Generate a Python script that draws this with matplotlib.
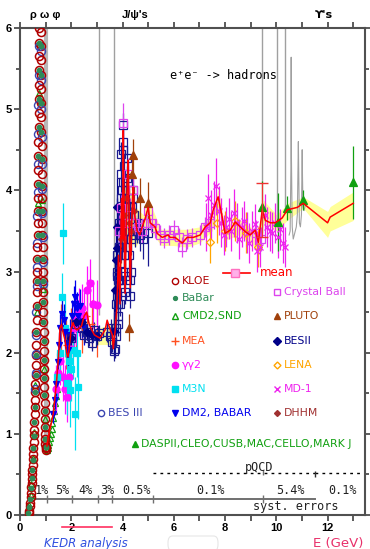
import matplotlib
matplotlib.use('Agg')
import matplotlib.pyplot as plt
from matplotlib.ticker import MultipleLocator, FuncFormatter
from matplotlib.lines import Line2D
from matplotlib.patches import FancyBboxPatch
from matplotlib import font_manager

# ---------------- data ----------------
KLOE_E = [0.36, 0.39, 0.42, 0.45, 0.47, 0.49, 0.51, 0.53, 0.55, 0.57, 0.585, 0.60, 0.615, 0.63, 0.645, 0.66,
          0.67, 0.68, 0.69, 0.70, 0.71, 0.72, 0.73, 0.74, 0.75, 0.76,
          0.80, 0.81, 0.82, 0.83, 0.84, 0.85, 0.86, 0.87, 0.88, 0.89, 0.90, 0.91, 0.92, 0.93, 0.94,
          0.95, 0.96, 0.97, 0.98, 0.99, 1.00]
KLOE_R = [0.05, 0.15, 0.27, 0.40, 0.50, 0.62, 0.75, 0.90, 1.05, 1.25, 1.42, 1.62, 1.85, 2.10, 2.40, 2.75,
          3.00, 3.30, 3.60, 3.90, 4.25, 4.60, 4.95, 5.30, 5.65, 6.00,
          5.95, 5.60, 5.25, 4.90, 4.55, 4.20, 3.90, 3.60, 3.30, 3.00, 2.75, 2.50, 2.25, 2.02, 1.80,
          1.58, 1.38, 1.18, 1.00, 0.88, 0.80]

KLOE2_E = [0.35, 0.38, 0.41, 0.44, 0.46, 0.48, 0.50, 0.52, 0.54, 0.56, 0.575, 0.59, 0.605, 0.62, 0.635, 0.65,
           0.665, 0.675, 0.685, 0.695, 0.705, 0.715, 0.725, 0.735, 0.745, 0.755,
           0.805, 0.815, 0.825, 0.835, 0.845, 0.855, 0.865, 0.875, 0.885, 0.895, 0.905, 0.915, 0.925,
           0.935, 0.945, 0.955, 0.965, 0.975, 0.985, 0.995, 1.005]
KLOE2_R = [0.03, 0.11, 0.22, 0.34, 0.44, 0.56, 0.69, 0.83, 0.98, 1.15, 1.33, 1.52, 1.73, 1.97, 2.25, 2.58,
           2.88, 3.15, 3.45, 3.75, 4.08, 4.42, 4.78, 5.12, 5.48, 5.82,
           5.78, 5.42, 5.08, 4.72, 4.38, 4.05, 3.75, 3.45, 3.15, 2.88, 2.62, 2.38, 2.14,
           1.91, 1.69, 1.48, 1.28, 1.09, 0.94, 0.84, 0.82]

BABAR_E = [0.33, 0.37, 0.40, 0.43, 0.46, 0.48, 0.50, 0.52, 0.54, 0.56, 0.58, 0.595, 0.61, 0.625, 0.64, 0.655,
           0.665, 0.675, 0.685, 0.695, 0.705, 0.715, 0.725, 0.735, 0.745, 0.755,
           0.805, 0.815, 0.825, 0.835, 0.845, 0.855, 0.865, 0.875, 0.885, 0.895, 0.905, 0.915, 0.925,
           0.935, 0.945, 0.955, 0.965, 0.975, 0.985, 0.995]
BABAR_R = [0.02, 0.10, 0.20, 0.33, 0.45, 0.56, 0.68, 0.82, 0.97, 1.15, 1.33, 1.52, 1.73, 1.97, 2.25, 2.58,
           2.88, 3.15, 3.45, 3.75, 4.08, 4.42, 4.78, 5.12, 5.48, 5.82,
           5.78, 5.42, 5.08, 4.72, 4.38, 4.05, 3.75, 3.45, 3.15, 2.88, 2.62, 2.38, 2.14,
           1.91, 1.69, 1.48, 1.28, 1.09, 0.94, 0.84]

BES3_E = [0.60, 0.61, 0.62, 0.63, 0.64, 0.65, 0.66, 0.67, 0.68, 0.69, 0.70, 0.71, 0.72, 0.73, 0.74, 0.75,
          0.76, 0.80, 0.81, 0.82, 0.83, 0.84, 0.85, 0.86, 0.87, 0.88, 0.89, 0.90]
BES3_R = [1.55, 1.75, 1.98, 2.22, 2.50, 2.82, 3.05, 3.35, 3.68, 3.98, 4.32, 4.70, 5.05, 5.42, 5.78, 6.10,
          6.40, 6.10, 5.72, 5.36, 5.00, 4.66, 4.32, 4.02, 3.72, 3.42, 3.12, 2.85]

CMD_E = [0.37, 0.41, 0.44, 0.50, 0.55, 0.60, 0.65, 0.70, 0.74, 0.82, 0.86, 0.90, 0.94, 0.97,
         1.05, 1.08, 1.11, 1.14, 1.17, 1.20, 1.23, 1.26, 1.29, 1.32, 1.36, 1.40, 1.44]
CMD_R = [0.12, 0.25, 0.38, 0.70, 1.02, 1.60, 2.50, 3.85, 5.20, 5.10, 3.88, 2.78, 1.80, 1.18,
         0.80, 0.83, 0.86, 0.90, 0.95, 1.00, 1.06, 1.13, 1.20, 1.28, 1.38, 1.47, 1.55]

DM2_E = [1.30, 1.36, 1.42, 1.48, 1.52, 1.58, 1.64, 1.70, 1.76, 1.82, 1.88, 1.95, 2.02, 2.10, 2.15, 2.22,
         2.28, 2.34, 2.42, 2.50]
DM2_R = [1.25, 1.42, 1.62, 1.88, 2.10, 2.30, 2.48, 2.40, 2.25, 2.12, 2.03, 2.22, 2.45, 2.60, 2.68, 2.55,
         2.45, 2.58, 2.38, 2.30]
DM2_ERR = [0.12, 0.12, 0.15, 0.15, 0.15, 0.18, 0.20, 0.20, 0.18, 0.18, 0.20, 0.20, 0.20, 0.22, 0.22, 0.20,
           0.20, 0.20, 0.20, 0.20]

M3N_E = [1.45, 1.55, 1.64, 1.68, 1.75, 1.83, 1.90, 1.95, 2.00, 2.07, 2.15, 2.22, 2.27]
M3N_R = [1.70, 2.00, 2.68, 3.47, 2.30, 1.63, 1.90, 1.54, 1.80, 2.03, 1.25, 2.00, 1.58]
M3N_ERR = [0.30, 0.30, 0.30, 0.38, 0.35, 0.40, 0.40, 0.45, 0.40, 0.35, 0.45, 0.30, 0.40]

GG2_E = [1.42, 1.50, 1.58, 1.66, 1.74, 1.82, 1.90, 2.00, 2.10, 2.20, 2.30, 2.40, 2.50, 2.60, 2.73, 2.85, 3.00]
GG2_R = [1.55, 1.75, 1.90, 1.70, 1.55, 1.45, 1.70, 2.05, 2.30, 2.40, 2.50, 2.55, 2.45, 2.77, 2.86, 2.60, 2.59]
GG2_ERR = [0.30, 0.30, 0.30, 0.30, 0.30, 0.30, 0.30, 0.30, 0.30, 0.30, 0.30, 0.30, 0.30, 0.30, 0.30, 0.30, 0.30]

MEA_E = [1.6, 1.8, 2.0, 2.2, 2.4, 2.6, 2.8, 3.0]
MEA_R = [2.30, 2.10, 2.25, 2.35, 2.30, 2.45, 2.35, 2.25]
MEA_ERR = [0.30, 0.30, 0.30, 0.30, 0.30, 0.30, 0.30, 0.30]

BES_E = [2.0, 2.2, 2.4, 2.5, 2.6, 2.7, 2.8, 2.9, 3.0, 3.07, 3.4, 3.5, 3.55, 3.6, 3.65, 3.7, 3.73,
         3.75, 3.76, 3.77, 3.78, 3.79, 3.80, 3.81, 3.82, 3.83, 3.84, 3.85, 3.86, 3.87, 3.88, 3.89, 3.90,
         3.91, 3.92, 3.93, 3.94, 3.95, 3.96, 3.97, 3.98, 3.99, 4.00, 4.01, 4.02, 4.03, 4.04, 4.05, 4.06,
         4.07, 4.08, 4.09, 4.10, 4.12, 4.14, 4.16, 4.18, 4.20, 4.22, 4.24, 4.26, 4.28, 4.30, 4.32, 4.35,
         4.38, 4.40, 4.42, 4.45, 4.48, 4.50, 4.55, 4.60, 4.70, 4.80, 5.00]
BES_R = [2.18, 2.35, 2.30, 2.22, 2.25, 2.18, 2.12, 2.28, 2.20, 2.24, 2.25, 2.20, 2.30, 2.13, 2.02, 2.05, 2.20,
         2.30, 2.60, 2.95, 3.20, 3.00, 2.70, 2.45, 2.35, 2.60, 2.90, 3.30, 3.60, 3.30, 2.90, 2.60, 2.80,
         3.10, 3.50, 3.90, 4.20, 4.45, 4.00, 3.60, 3.30, 3.70, 4.10, 4.50, 4.80, 4.60, 4.30, 3.90, 3.50,
         3.20, 2.95, 2.75, 3.00, 3.40, 3.80, 4.15, 4.40, 4.10, 3.80, 3.50, 3.20, 2.90, 2.70, 3.00, 3.40,
         3.80, 4.00, 3.90, 3.70, 3.55, 3.45, 3.50, 3.60, 3.45, 3.40, 3.47]
BES_ERR = [0.10, 0.10, 0.10, 0.10, 0.10, 0.10, 0.10, 0.10, 0.10, 0.10, 0.12, 0.12, 0.12, 0.12, 0.12, 0.12, 0.12,
           0.15, 0.15, 0.15, 0.15, 0.15, 0.15, 0.15, 0.15, 0.15, 0.15, 0.15, 0.15, 0.15, 0.15, 0.15, 0.15,
           0.15, 0.15, 0.15, 0.15, 0.15, 0.15, 0.15, 0.15, 0.15, 0.15, 0.15, 0.15, 0.15, 0.15, 0.15, 0.15,
           0.15, 0.15, 0.15, 0.15, 0.15, 0.15, 0.15, 0.15, 0.15, 0.15, 0.15, 0.15, 0.15, 0.15, 0.15, 0.15,
           0.15, 0.15, 0.15, 0.15, 0.15, 0.15, 0.15, 0.15, 0.20, 0.25, 0.40]

BES2_E = [2.0, 2.2, 2.4, 2.6, 2.8, 3.0, 3.65, 3.71, 3.74, 3.77, 3.79, 3.79]
BES2_R = [2.18, 2.38, 2.38, 2.25, 2.22, 2.21, 2.27, 2.77, 3.14, 3.29, 3.55, 3.80]
BES2_ERR = [0.10, 0.10, 0.10, 0.10, 0.10, 0.10, 0.30, 0.35, 0.35, 0.35, 0.35, 0.35]

PLUTO_E = [4.26, 4.37, 4.41, 4.69, 5.00]
PLUTO_R = [2.31, 4.20, 4.43, 3.90, 3.85]
PLUTO_ERR = [0.17, 0.20, 0.20, 0.25, 0.25]

DHHM_E = [3.95, 4.05, 4.15, 4.25, 4.35, 4.45]
DHHM_R = [3.40, 3.70, 3.90, 3.60, 3.50, 3.75]
DHHM_ERR = [0.30, 0.30, 0.30, 0.30, 0.30, 0.30]

CB_E = [3.88, 3.95, 4.03, 4.10, 4.20, 4.30, 4.40, 4.50, 4.60, 4.75, 4.90, 5.00, 5.16, 5.27, 5.45, 5.60,
        5.80, 6.00, 6.20, 6.33, 6.50, 6.70, 7.03, 7.20, 7.40, 9.20, 9.40]
CB_R = [3.50, 3.78, 4.83, 3.60, 4.20, 3.70, 4.00, 3.60, 3.55, 3.50, 3.60, 3.75, 3.60, 3.53, 3.45, 3.41,
        3.45, 3.51, 3.42, 3.30, 3.40, 3.42, 3.45, 3.55, 3.60, 3.48, 3.40]
CB_ERR = [0.20, 0.20, 0.25, 0.20, 0.20, 0.20, 0.20, 0.15, 0.15, 0.15, 0.15, 0.15, 0.12, 0.12, 0.12, 0.12,
          0.12, 0.12, 0.12, 0.12, 0.12, 0.12, 0.12, 0.12, 0.12, 0.15, 0.15]

LENA_E = [7.42, 7.70, 8.00, 8.40, 8.80, 9.30]
LENA_R = [3.36, 3.60, 3.50, 3.62, 3.48, 3.30]
LENA_ERR = [0.25, 0.25, 0.25, 0.25, 0.25, 0.25]

MD1_E = [7.25, 7.35, 7.45, 7.55, 7.65, 7.75, 7.85, 7.95, 8.05, 8.15, 8.25, 8.35, 8.45, 8.55, 8.65, 8.75,
         8.85, 8.95, 9.05, 9.15, 9.25, 9.35, 9.55, 9.65, 9.75, 9.85, 9.95, 10.05, 10.15, 10.25, 10.35]
MD1_R = [3.55, 3.90, 3.70, 3.82, 4.05, 3.75, 3.60, 3.45, 3.55, 3.65, 3.50, 3.72, 3.60, 3.40, 3.55, 3.62,
         3.48, 3.35, 3.50, 3.58, 3.25, 3.30, 3.70, 3.55, 3.50, 3.48, 3.60, 3.42, 3.52, 3.35, 3.30]
MD1_ERR = [0.30, 0.30, 0.30, 0.30, 0.35, 0.30, 0.30, 0.25, 0.25, 0.25, 0.25, 0.30, 0.25, 0.25, 0.25, 0.25,
           0.25, 0.25, 0.25, 0.25, 0.25, 0.25, 0.25, 0.25, 0.25, 0.25, 0.25, 0.25, 0.25, 0.25, 0.25]

DASP_E = [9.46, 10.08, 10.43, 11.05, 13.0]
DASP_R = [3.79, 3.61, 3.78, 3.88, 4.10]
DASP_ERR = [0.32, 0.36, 0.15, 0.12, 0.45]

MEAN_E = [1.05, 1.10, 1.20, 1.30, 1.38, 1.43, 1.50, 1.56, 1.62, 1.68, 1.76, 1.82, 1.88, 1.95, 2.00, 2.07,
          2.15, 2.22, 2.30, 2.40, 2.50, 2.60, 2.70, 2.80, 2.90, 3.00, 3.12, 3.20, 3.32, 3.40, 3.50, 3.60,
          3.64, 3.72, 3.78, 3.84, 3.90, 3.96, 4.00, 4.03, 4.06, 4.10, 4.14, 4.18, 4.22, 4.26, 4.30, 4.36,
          4.41, 4.47, 4.57, 4.67, 4.77, 4.88, 5.00, 5.08, 5.27, 5.35, 5.55, 5.78, 5.86, 6.05, 6.33, 6.52,
          6.76, 7.03, 7.23, 7.42, 7.54, 7.73, 7.89, 8.00, 8.20, 8.40, 8.59, 8.79, 8.98, 9.18, 9.30, 9.45,
          9.57, 9.77, 9.96, 10.23, 10.43, 10.82, 11.05, 12.00, 12.10, 13.00]
MEAN_R = [0.85, 0.96, 1.10, 1.25, 1.50, 1.66, 1.95, 2.30, 2.35, 2.25, 2.15, 2.00, 1.95, 2.15, 2.30, 2.37,
          2.30, 2.28, 2.30, 2.33, 2.45, 2.50, 2.35, 2.28, 2.22, 2.20, 2.18, 2.22, 2.28, 2.40, 2.30, 2.22,
          2.05, 2.30, 2.56, 3.20, 2.60, 3.90, 3.40, 4.74, 3.60, 2.73, 3.50, 4.00, 4.37, 3.60, 2.80, 3.60,
          4.04, 3.70, 3.50, 3.45, 3.55, 3.65, 3.79, 3.60, 3.55, 3.47, 3.42, 3.45, 3.42, 3.42, 3.35, 3.42,
          3.42, 3.45, 3.55, 3.60, 3.76, 3.92, 3.67, 3.47, 3.51, 3.61, 3.55, 3.49, 3.45, 3.51, 3.36, 3.76,
          3.63, 3.60, 3.60, 3.66, 3.76, 3.79, 3.84, 3.60, 3.67, 3.84]

BAND_E = [3.0, 3.6, 3.75, 4.0, 4.2, 4.5, 4.8, 5.0, 5.5, 6.0, 6.5, 7.0, 7.5, 7.73, 8.0, 8.5, 9.0, 9.3, 9.5,
          10.0, 10.5, 11.05, 12.0, 12.1, 13.0]
BAND_LO = [2.10, 2.10, 2.30, 3.30, 3.40, 3.30, 3.45, 3.55, 3.32, 3.32, 3.30, 3.35, 3.50, 3.80, 3.38, 3.45,
           3.35, 3.25, 3.60, 3.50, 3.65, 3.78, 3.42, 3.50, 3.63]
BAND_HI = [2.30, 2.35, 2.70, 4.00, 4.10, 3.80, 3.70, 3.90, 3.52, 3.52, 3.52, 3.55, 3.72, 4.02, 3.55, 3.65,
           3.55, 3.45, 3.88, 3.70, 3.85, 3.92, 3.74, 3.80, 3.98]

PEAK_E = [9.46]
PEAK_R = [3.76]
PEAK_ERR = [0.33]

RES_E = [1.02, 3.097, 3.686, 9.46, 10.023, 10.355]
RES_LO = [0.80, 2.46, 2.20, 4.09, 3.63, 3.80]

UH_E = [10.50, 10.54, 10.57, 10.58, 10.59, 10.62, 10.66, 10.70, 10.74, 10.78, 10.82, 10.86, 10.88, 10.90,
        10.94, 10.98, 11.01, 11.02, 11.04, 11.08, 11.12]
UH_R = [3.45, 3.50, 4.30, 5.64, 4.40, 3.55, 3.40, 3.45, 3.50, 3.55, 3.70, 4.60, 4.10, 3.60,
        3.55, 3.70, 4.50, 4.20, 3.80, 3.75, 3.80]

SYST_BREAKS = [1.05, 2.03, 3.05, 3.59, 5.19, 9.48]
SYST_LABELS = ['1%', '5%', '4%', '3%', '0.5%', '0.1%', '5.4%', '0.1%']
SYST_LABEL_E = [0.84, 1.66, 2.54, 3.39, 4.53, 7.42, 10.55, 12.58]

# ---------------- figure ----------------
names = {f.name for f in font_manager.fontManager.ttflist}
TICKFONT = 'Liberation Sans' if 'Liberation Sans' in names else 'DejaVu Sans'
plt.rcParams['font.family'] = ['DejaVu Sans']

W, H = 370, 549
fig = plt.figure(figsize=(W / 100, H / 100), dpi=100)
ax = fig.add_axes([20 / W, (H - 515) / H, 345 / W, 487 / H])
ax.set_xlim(0, 13.46)
ax.set_ylim(0, 6)

for s in ax.spines.values():
    s.set_color('#505050')
    s.set_linewidth(1.5)
ax.xaxis.set_major_locator(MultipleLocator(1))
ax.xaxis.set_major_formatter(FuncFormatter(lambda v, p: f'{int(round(v))}' if int(round(v)) % 2 == 0 else ''))
ax.yaxis.set_major_locator(MultipleLocator(1))
ax.yaxis.set_minor_locator(MultipleLocator(0.5))
ax.tick_params(axis='both', which='major', direction='out', length=4, width=1.2, color='#404040',
               labelsize=8, pad=2)
ax.tick_params(axis='both', which='minor', direction='out', length=3, width=1.2, color='#404040')
ax.tick_params(top=True, right=True, labeltop=False, labelright=False)
ax.tick_params(axis='y', which='minor', right=True)
for lab in ax.get_xticklabels() + ax.get_yticklabels():
    lab.set_fontfamily(TICKFONT)
    lab.set_fontweight('bold')

ax.fill_between(BAND_E, BAND_LO, BAND_HI, color='#ffff99', lw=0, zorder=1)
ax.vlines(RES_E[0], RES_LO[0], 6, color='#b8b8b8', lw=3, zorder=1.2)
ax.vlines(RES_E[1:], RES_LO[1:], 6, color='#a0a0a0', lw=1, zorder=1.2)
ax.plot(UH_E, UH_R, color='#a0a0a0', lw=0.8, zorder=1.2)


def eb(E, R, err, fmt, color, ms, mfc=None, mew=0.9, z=3):
    ax.errorbar(E, R, yerr=err, fmt=fmt, color=color, ms=ms, mfc=mfc if mfc else color, mec=color,
                mew=mew, ecolor=color, elinewidth=0.9, capsize=0, zorder=z)


# rho region
ax.plot(CMD_E, CMD_R, '^', ms=4.5, mfc='none', mec='#10a010', mew=0.9, zorder=3)
ax.plot(KLOE2_E, KLOE2_R, 'o', ms=5.8, mfc='none', mec='#b00000', mew=1.1, zorder=3)
ax.plot(BES3_E, BES3_R, 'o', ms=5.8, mfc='none', mec='#3a44b0', mew=1.0, zorder=3.1)
ax.plot(KLOE_E, KLOE_R, 'o', ms=5.8, mfc='none', mec='#b00000', mew=1.1, zorder=3.1)
ax.plot(BABAR_E, BABAR_R, 'o', ms=3.2, mfc='#2e8b57', mec='#2e8b57', zorder=3.2)

eb(MEA_E, MEA_R, MEA_ERR, '+', '#ff5020', 5)
eb(GG2_E, GG2_R, GG2_ERR, 'o', '#ff10ff', 5)
eb(M3N_E, M3N_R, M3N_ERR, 's', '#00e0f0', 4.5)
eb(DM2_E, DM2_R, DM2_ERR, 'v', '#0000ee', 5)
eb(BES_E, BES_R, BES_ERR, 's', '#1a1a90', 5.2, mfc='none')
eb(BES2_E, BES2_R, BES2_ERR, 'D', '#000088', 4.5)
eb(CB_E, CB_R, CB_ERR, 's', '#dd44ee', 6, mfc='none')
eb(DHHM_E, DHHM_R, DHHM_ERR, 'D', '#a03030', 3)
eb(PLUTO_E, PLUTO_R, PLUTO_ERR, '^', '#a0400a', 5.5)
eb(LENA_E, LENA_R, LENA_ERR, 'D', '#ffa500', 4, mfc='none')
eb(MD1_E, MD1_R, MD1_ERR, 'x', '#ee22ee', 5)
eb(DASP_E, DASP_R, DASP_ERR, '^', '#10a010', 5.5)

ax.plot(MEAN_E, MEAN_R, '-', color='#ff0000', lw=1.1, zorder=5)
ax.errorbar(PEAK_E, PEAK_R, yerr=PEAK_ERR, fmt='none', ecolor='#ee3333', elinewidth=0.9, capsize=4,
            zorder=5)

ax.plot([0.6, 11.52], [0.2, 0.2], color='#707070', lw=1.4, zorder=2)
ax.vlines(SYST_BREAKS, 0.15, 0.25, color='#707070', lw=1, zorder=2)
ax.plot([5.19, 11.52], [0.52, 0.52], color='black', lw=1, ls=(0, (2, 3)), zorder=2)
ax.plot([11.52, 13.46], [0.52, 0.52], color='black', lw=1, ls=(0, (2, 3)), zorder=2)
ax.vlines([9.48], 0.49, 0.55, color='#707070', lw=1, zorder=2)
ax.vlines([11.52], 0.47, 0.54, color='#303030', lw=1, zorder=2)
mono = 'DejaVu Sans Mono'
for lab, e in zip(SYST_LABELS, SYST_LABEL_E):
    ax.text(e, 0.30, lab, ha='center', va='center', fontsize=8.5, family=mono, color='#222222')
ax.text(10.74, 0.10, 'syst. errors', ha='center', va='center', fontsize=8.5, family=mono, color='#222222')
ax.text(9.33, 0.59, 'pQCD', ha='center', va='center', fontsize=8.5, family=mono, color='#222222')
ax.text(7.95, 5.42, 'e⁺e⁻ -> hadrons', ha='center', va='center', fontsize=8.5, family=mono, color='black')


def P(x, y):
    return (x / W, 1 - y / H)


def legend_entry(mx, tx, y, label, color, marker, ms, filled=True, mew=1.0):
    xm, ym = P(mx, y)
    fig.add_artist(Line2D([xm], [ym], marker=marker, ms=ms, mfc=color if filled else 'none', mec=color,
                          mew=mew, ls='none'))
    xt, yt = P(tx, y)
    fig.text(xt, yt, label, color=color, fontsize=7.8, ha='left', va='center',
             family=['DejaVu Sans'])


legend_entry(175, 182, 281, 'KLOE', '#b00000', 'o', 4.5, False)
legend_entry(175, 182, 298, 'BaBar', '#2e8b57', 'o', 2.8, True)
legend_entry(175, 182, 316, 'CMD2,SND', '#10a010', '^', 4.2, False)
legend_entry(175, 182, 341, 'MEA', '#ff5020', '+', 6, True)
legend_entry(175, 182, 365, 'γγ2', '#ff10ff', 'o', 4.5, True)
legend_entry(175, 182, 389, 'M3N', '#00e0f0', 's', 4, True)
legend_entry(175, 182, 413, 'DM2, BABAR', '#0000ee', 'v', 5, True)
legend_entry(101.5, 108, 413, 'BES III', '#3a44b0', 'o', 4.5, False)
legend_entry(135, 141, 444, 'DASPII,CLEO,CUSB,MAC,CELLO,MARK J', '#10a010', '^', 4, True)
legend_entry(277, 284, 292, 'Crystal Ball', '#dd44ee', 's', 4.5, False)
legend_entry(277, 284, 316, 'PLUTO', '#a0400a', '^', 5, True)
legend_entry(277, 284, 341, 'BESII', '#000088', 'D', 4, True)
legend_entry(277, 284, 365, 'LENA', '#ffa500', 'D', 3.5, False)
legend_entry(277, 284, 389, 'MD-1', '#ee22ee', 'x', 4.5, True)
legend_entry(277, 284, 413, 'DHHM', '#a03030', 'D', 3, True)

x0, y0 = P(223, 273)
x1, _ = P(250, 273)
fig.add_artist(Line2D([x0, x1], [y0, y0], color='#ff0000', lw=1.2))
xm, _ = P(235, 273)
fig.add_artist(Line2D([xm], [y0], marker='s', ms=5.5, mfc='#ffb0e8', mec='#ff70c0', ls='none'))
xt, _ = P(260, 273)
fig.text(xt, y0, 'mean', color='#ff0000', fontsize=8.5, ha='left', va='center')

fig.text(*P(45, 15), 'ρ ω φ', fontsize=8, fontweight='bold', ha='center', va='center',
         family=[TICKFONT, 'DejaVu Sans'])
fig.text(*P(135, 15), "J/ψ's", fontsize=8, fontweight='bold', ha='center', va='center',
         family=[TICKFONT, 'DejaVu Sans'])
fig.text(*P(324, 15), "ϒ's", fontsize=8, fontweight='bold', ha='center', va='center',
         family=['DejaVu Sans'])

fig.add_artist(Line2D([62 / W, 112 / W], [1 - 527 / H, 1 - 527 / H], color='#ff3060', lw=1.2))
fig.text(*P(86, 543), 'KEDR analysis', fontsize=8.5, style='italic', color='#3050e0', ha='center',
         va='center')
fig.text(*P(338, 543), 'E (GeV)', fontsize=9.5, color='#e8306a', ha='center', va='center')
fig.add_artist(FancyBboxPatch((168 / W, 1 - 551 / H), 50 / W, 15 / H,
                              boxstyle='round,pad=0,rounding_size=0.012', fc='none', ec='#e6e6e6',
                              lw=0.8))

fig.savefig('out.png', dpi=100)
